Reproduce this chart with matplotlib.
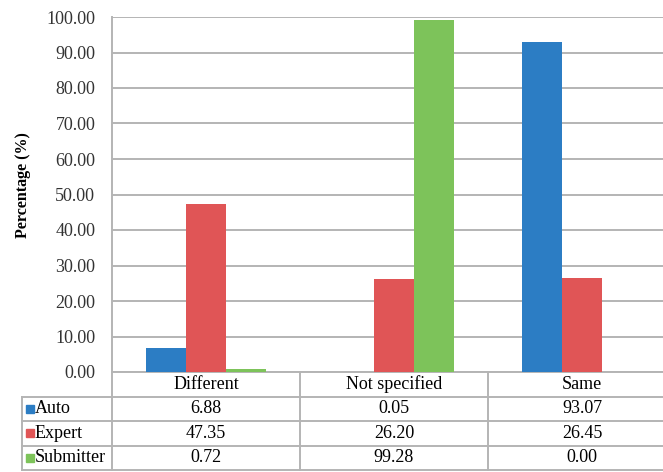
import numpy as np
import matplotlib.pyplot as plt
from matplotlib.transforms import blended_transform_factory

categories = ['Different', 'Not specified', 'Same']
series = ['Auto', 'Expert', 'Submitter']
auto = [6.88, 0.05, 93.07]
expert = [47.35, 26.20, 26.45]
submitter = [0.72, 99.28, 0.00]
values = [auto, expert, submitter]
colors = ['#2C7DC4', '#E05556', '#7DC35A']

W, H = 663, 472
plt.rcParams['font.family'] = ['Liberation Serif', 'DejaVu Serif']

fig = plt.figure(figsize=(W / 100, H / 100), dpi=100)
# plot area runs past the right edge of the picture (cropped like the original)
left, right, top, bottom = 112, 676, 17, 372
ax = fig.add_axes([left / W, (H - bottom) / H, (right - left) / W, (bottom - top) / H])

x = np.arange(len(categories))
bw = 0.213
for i, (vals, c) in enumerate(zip(values, colors)):
    ax.bar(x + (i - 1) * bw, vals, bw, color=c, zorder=3)

grid_c = '#B4B4B4'
ax.set_xlim(-0.5, 2.5)
ax.set_ylim(0, 100)
ax.set_yticks(np.arange(0, 101, 10))
ax.set_yticklabels(['%.2f' % v for v in np.arange(0, 101, 10)], fontsize=13, color='#333333')
ax.set_xticks([])
ax.tick_params(axis='y', length=0, pad=12)
ax.grid(axis='y', color=grid_c, linewidth=1.4, zorder=0)
for s in ['top', 'right', 'bottom']:
    ax.spines[s].set_visible(False)
ax.spines['left'].set_color(grid_c)
ax.spines['left'].set_linewidth(1.4)
ax.set_ylabel('Percentage (%)', fontsize=11.5, fontweight='bold')
ax.yaxis.set_label_coords((31 - left) / (right - left), (bottom - 185) / (bottom - top))

# data table under the plot
tr = blended_transform_factory(ax.transData, ax.transAxes)
ah = bottom - top
rh = 24.5 / ah
xl = -0.5 - 90 / 188.0
xr = 2.6
kw = dict(transform=tr, clip_on=False, color=grid_c, linewidth=1.4)

ax.plot([-0.5, xr], [0, 0], **kw)
for r in range(1, 5):
    ax.plot([xl, xr], [-r * rh, -r * rh], **kw)
ax.plot([xl, xl], [-rh, -4 * rh], **kw)
for xv in [-0.5, 0.5, 1.5, 2.5]:
    ax.plot([xv, xv], [0, -4 * rh], **kw)

for j, cat in enumerate(categories):
    ax.text(j, -0.5 * rh, cat, transform=tr, ha='center', va='center', fontsize=13)
for i, (name, vals, c) in enumerate(zip(series, values, colors)):
    yc = -(i + 1.5) * rh
    ax.plot([xl + 0.045], [yc], marker='s', markersize=5.5, color=c,
            transform=tr, clip_on=False)
    ax.text(xl + 0.068, yc, name, transform=tr, ha='left', va='center', fontsize=13)
    for j, v in enumerate(vals):
        ax.text(j, yc, '%.2f' % v, transform=tr, ha='center', va='center', fontsize=13)

fig.savefig('out.png', dpi=100)
